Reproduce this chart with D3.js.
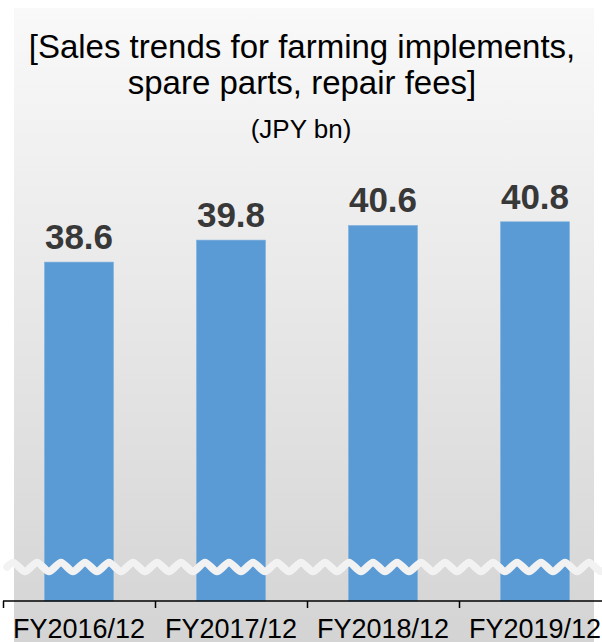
<!DOCTYPE html>
<html>
<head>
<meta charset="utf-8">
<script src="https://cdn.jsdelivr.net/npm/d3@7"></script>
<style>
  html, body { margin: 0; padding: 0; background: #ffffff; }
  svg { display: block; font-family: "Liberation Sans", Arial, sans-serif; }
</style>
</head>
<body>
<script>
const categories = ["FY2016/12", "FY2017/12", "FY2018/12", "FY2019/12"];
const values = [38.6, 39.8, 40.6, 40.8];
const valueLabels = ["38.6", "39.8", "40.6", "40.8"];
const titleLines = ["[Sales trends for farming implements,", "spare parts, repair fees]"];
const unitLabel = "(JPY bn)";

const W = 602, H = 642;
const svg = d3.select("body").append("svg").attr("width", W).attr("height", H);

const defs = svg.append("defs");
const grad = defs.append("linearGradient").attr("id", "bg").attr("x1", 0).attr("y1", 0).attr("x2", 0).attr("y2", 1);
grad.append("stop").attr("offset", "0%").attr("stop-color", "#f9f9f9");
grad.append("stop").attr("offset", "100%").attr("stop-color", "#d4d4d4");

svg.append("rect").attr("x", 14).attr("y", 8).attr("width", 580).attr("height", H - 8).attr("fill", "url(#bg)");

const x = d3.scaleBand().domain(categories).range([3, 611]).paddingInner(0.546).paddingOuter(0.273);
const y = d3.scaleLinear().domain([20.1, 42]).range([601, 199.8]);

// title
svg.append("g").selectAll("text").data(titleLines).join("text")
  .attr("x", 302).attr("y", (d, i) => 58 + i * 36)
  .attr("text-anchor", "middle").attr("font-size", 33).attr("fill", "#000")
  .text(d => d);
svg.append("text").attr("x", 301).attr("y", 138).attr("text-anchor", "middle")
  .attr("font-size", 26).attr("fill", "#000").text(unitLabel);

// bars
svg.append("g").selectAll("rect").data(values).join("rect")
  .attr("x", (d, i) => x(categories[i]))
  .attr("y", d => y(d))
  .attr("width", x.bandwidth())
  .attr("height", d => y(y.domain()[0]) - y(d))
  .attr("fill", "#5b9bd5")
  .attr("stroke", "#7fb0de").attr("stroke-width", 0.6);

// value labels
svg.append("g").selectAll("text").data(values).join("text")
  .attr("x", (d, i) => x(categories[i]) + x.bandwidth() / 2)
  .attr("y", d => y(d) - 13)
  .attr("text-anchor", "middle").attr("font-size", 35).attr("font-weight", "bold")
  .attr("fill", "#383838")
  .text((d, i) => valueLabels[i]);

// wavy break
let p = d3.path();
const wy = 567, period = 24, amp = 3;
p.moveTo(7, wy);
for (let xx = 7; xx < W + period; xx += period) {
  p.bezierCurveTo(xx + period * 0.25, wy - amp * 2, xx + period * 0.25, wy - amp * 2, xx + period * 0.5, wy);
  p.bezierCurveTo(xx + period * 0.75, wy + amp * 2, xx + period * 0.75, wy + amp * 2, xx + period, wy);
}
svg.append("path").attr("d", p.toString()).attr("fill", "none")
  .attr("stroke", "#f2f2f2").attr("stroke-width", 7.5).attr("stroke-linecap", "round");

// axis
const axisG = svg.append("g").attr("transform", "translate(0,601)");
axisG.append("line").attr("x1", 3).attr("x2", 602).attr("y1", 0).attr("y2", 0)
  .attr("stroke", "#000").attr("stroke-width", 1.5);
const step = x.step();
axisG.selectAll("line.tick").data(d3.range(categories.length + 1)).join("line")
  .attr("class", "tick")
  .attr("x1", i => x.range()[0] + i * step + 0.5).attr("x2", i => x.range()[0] + i * step + 0.5)
  .attr("y1", 0).attr("y2", 7).attr("stroke", "#000").attr("stroke-width", 1.5);
const ax = d3.axisBottom(x).tickSize(0).tickPadding(0);
const labG = svg.append("g").attr("transform", "translate(0,601)").call(ax);
labG.select(".domain").remove();
labG.selectAll("text").attr("font-size", 27).attr("fill", "#000")
  .attr("font-family", "Liberation Sans, Arial, sans-serif")
  .attr("dy", null).attr("y", 37);
</script>
</body>
</html>
